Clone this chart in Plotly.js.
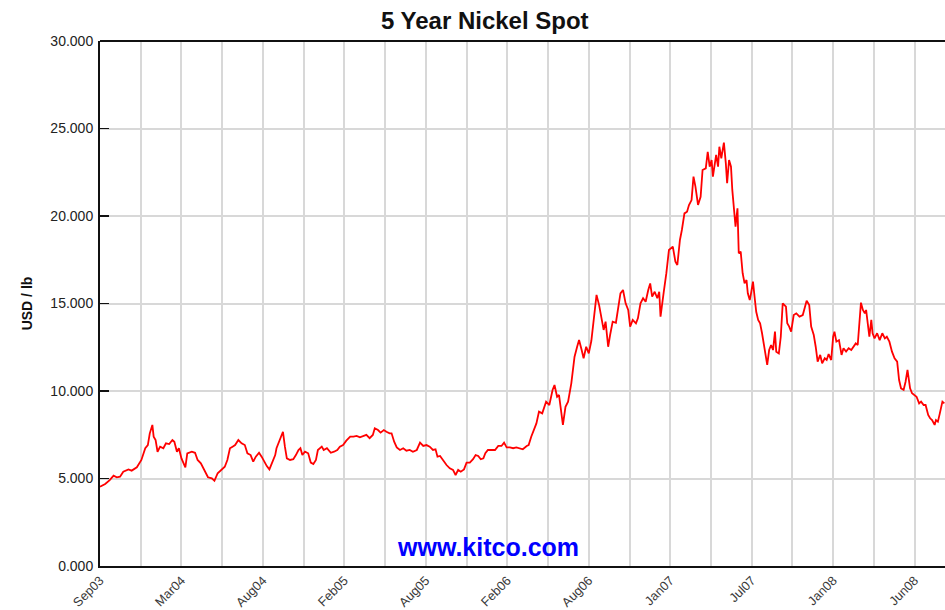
<!DOCTYPE html>
<html>
<head>
<meta charset="utf-8">
<script src="https://cdn.plot.ly/plotly-3.0.1.min.js"></script>
<style>
html,body{margin:0;padding:0;background:#fff;overflow:hidden;}
#chart{width:945px;height:610px;}
</style>
</head>
<body>
<div id="chart"></div>
<script>
// Trading-day index since Sep 2003
const days = [0,8,15,21,26,31,36,44,49,57,64,70,74,77,81,83,86,89,93,98,102,107,112,115,119,122,126,132,135,142,147,151,156,162,167,173,177,182,188,193,197,201,205,209,214,219,224,228,233,237,241,246,250,254,258,262,265,271,273,277,281,283,286,289,294,299,303,307,310,313,317,322,326,330,334,337,343,346,351,357,362,367,371,376,381,387,392,397,402,407,412,417,422,425,430,434,439,443,448,451,455,459,464,469,474,479,484,490,495,500,505,510,515,519,522,526,531,536,541,546,550,554,558,563,567,572,577,581,585,589,593,596,600,605,611,616,621,625,629,634,639,644,649,654,660,663,667,670,675,679,684,690,695,700,703,707,710,714,716,720,724,729,734,738,741,745,748,752,756,760,764,768,772,775,779,782,786,789,793,798,801,805,809,813,817,820,824,829,832,836,840,844,848,851,854,858,862,865,867,870,872,876,880,886,890,893,897,900,904,908,911,915,918,921,925,929,932,937,940,943,946,948,951,953,956,958,961,965,968,970,973,976,978,981,983,986,988,991,994,997,1000,1002,1005,1007,1010,1013,1015,1018,1021,1024,1028,1032,1035,1038,1041,1044,1046,1050,1053,1056,1061,1063,1066,1069,1073,1077,1082,1087,1093,1097,1100,1104,1107,1110,1114,1117,1121,1124,1127,1131,1134,1136,1139,1143,1147,1150,1154,1158,1162,1166,1169,1172,1175,1177,1180,1183,1185,1188,1190,1193,1195,1198,1202,1206,1210,1214,1217,1221,1225,1229,1233,1236,1239,1243,1246,1249,1251,1253,1256,1260,1263,1267,1270,1274,1277,1281,1284,1287,1291,1293,1296,1299,1303,1306];
// Nickel spot, USD per lb
const price = [4.53,4.69,4.91,5.16,5.07,5.10,5.39,5.52,5.45,5.64,6.06,6.73,6.91,7.58,8.06,7.39,7.20,6.53,6.82,6.73,7.01,6.97,7.20,7.10,6.53,6.73,6.15,5.64,6.44,6.53,6.47,6.06,5.87,5.39,5.07,5.01,4.87,5.30,5.52,5.67,6.06,6.73,6.82,6.91,7.20,7.01,6.91,6.44,6.34,5.96,6.25,6.47,6.25,5.96,5.71,5.52,5.77,6.34,6.73,7.10,7.39,7.67,6.82,6.15,6.06,6.10,6.34,6.63,6.73,6.34,6.53,6.44,5.91,5.83,6.06,6.63,6.82,6.63,6.73,6.47,6.53,6.63,6.82,6.91,7.16,7.39,7.39,7.43,7.35,7.43,7.49,7.30,7.49,7.87,7.77,7.62,7.77,7.67,7.58,7.58,7.10,6.78,6.63,6.73,6.59,6.63,6.53,6.63,7.05,6.86,6.91,6.82,6.63,6.67,6.25,6.29,6.02,5.77,5.58,5.49,5.20,5.49,5.39,5.52,5.91,5.91,6.10,6.34,6.29,6.10,6.15,6.44,6.63,6.63,6.63,6.86,6.86,7.05,6.78,6.78,6.73,6.78,6.73,6.67,6.86,6.91,7.39,7.67,8.15,8.82,8.72,9.39,9.20,10.06,10.34,9.67,9.77,8.63,8.06,9.10,9.39,10.44,11.96,12.53,12.91,12.34,11.87,12.53,12.15,12.87,14.15,15.49,14.91,14.34,13.49,13.96,12.53,13.20,13.96,13.90,14.72,15.58,15.77,15.01,14.63,13.67,14.06,13.87,14.15,15.01,15.30,15.10,15.77,16.15,15.39,15.67,15.30,15.67,14.25,15.20,15.67,16.73,18.06,18.25,17.39,17.20,18.63,19.20,20.15,20.25,20.63,20.91,22.25,21.68,20.63,21.10,22.63,22.72,23.67,22.82,23.20,22.25,23.10,23.49,22.82,23.96,23.30,24.19,23.01,21.87,23.20,22.82,21.49,20.34,19.39,20.44,17.87,17.96,16.73,16.15,16.34,15.58,15.20,15.58,16.25,15.20,14.53,14.06,13.87,13.30,12.25,11.49,12.34,12.63,12.34,13.39,12.25,12.15,13.10,15.01,14.82,13.87,13.68,13.39,14.34,14.44,14.25,14.34,15.16,14.91,13.68,13.20,12.53,11.68,12.06,11.58,11.87,11.77,12.11,11.77,13.10,13.39,12.82,12.91,12.06,12.44,12.25,12.44,12.34,12.53,12.72,12.63,14.06,15.05,14.63,14.44,14.63,13.87,13.10,14.06,13.30,13.01,13.30,12.91,13.30,13.01,13.10,12.82,12.25,11.87,11.68,10.63,10.15,10.06,10.53,11.20,10.72,10.15,9.87,9.77,9.67,9.29,9.39,9.20,9.20,8.63,8.44,8.34,8.06,8.34,8.25,8.72,9.39,9.29];
// Axis labels
const tickLabels = ['Sep03','Mar04','Aug04','Feb05','Aug05','Feb06','Aug06','Jan07','Jul07','Jan08','Jun08'];
const gridStep = 63;   // trading days per grid line
const yTicks = [0,5,10,15,20,25,30];

const gridVals = [], gridText = [];
for (let i = 0; i <= 20; i++) {
  gridVals.push(i * gridStep);
  gridText.push(i % 2 === 0 ? tickLabels[i / 2] : '');
}

const trace = {
  x: days, y: price, type: 'scatter', mode: 'lines',
  line: {color: '#ff0000', width: 1.8},
  hoverinfo: 'skip'
};

const layout = {
  width: 945, height: 610,
  margin: {l: 100, r: 0, t: 41, b: 44},
  paper_bgcolor: '#ffffff', plot_bgcolor: '#ffffff',
  font: {family: 'Liberation Sans, Arial, sans-serif', color: '#222'},
  showlegend: false,
  title: {text: '<b>5 Year Nickel Spot</b>', x: 0.513, xref: 'container', xanchor: 'center',
          y: 0.967, yref: 'container', yanchor: 'middle',
          font: {size: 24, color: '#111', family: 'Liberation Sans, Arial, sans-serif'}},
  xaxis: {
    range: [0, 1307], tickmode: 'array', tickvals: gridVals, ticktext: gridText,
    tickangle: -45, ticks: '', showgrid: true, gridcolor: '#d8d8d8', gridwidth: 2,
    showline: true, linecolor: '#111', linewidth: 2, zeroline: false,
    tickfont: {size: 12.8, color: '#3a3a3a'}, ticklabelstandoff: 0, fixedrange: true
  },
  yaxis: {
    range: [0, 30], tickmode: 'array', tickvals: yTicks, tickformat: '.3f',
    ticks: 'inside', ticklen: 9, tickwidth: 1.5, tickcolor: '#111',
    showgrid: true, gridcolor: '#d8d8d8', gridwidth: 2,
    showline: true, linecolor: '#111', linewidth: 2, zeroline: false,
    tickfont: {size: 14, color: '#222'}, ticklabelstandoff: 2,
    title: {text: '<b>USD / lb</b>', font: {size: 14, color: '#111'}, standoff: 14},
    fixedrange: true
  },
  shapes: [{type: 'line', xref: 'paper', yref: 'paper', x0: 0, x1: 1, y0: 1, y1: 1,
            line: {color: '#111', width: 2}}],
  annotations: [{text: '<b>www.kitco.com</b>', xref: 'paper', yref: 'paper',
                 x: 0.459, y: 0.036, xanchor: 'center', yanchor: 'middle', showarrow: false,
                 font: {size: 25, color: '#0000ff', family: 'Liberation Sans, Arial, sans-serif'}}]
};

Plotly.newPlot('chart', [trace], layout, {displayModeBar: false, staticPlot: true});
</script>
</body>
</html>
